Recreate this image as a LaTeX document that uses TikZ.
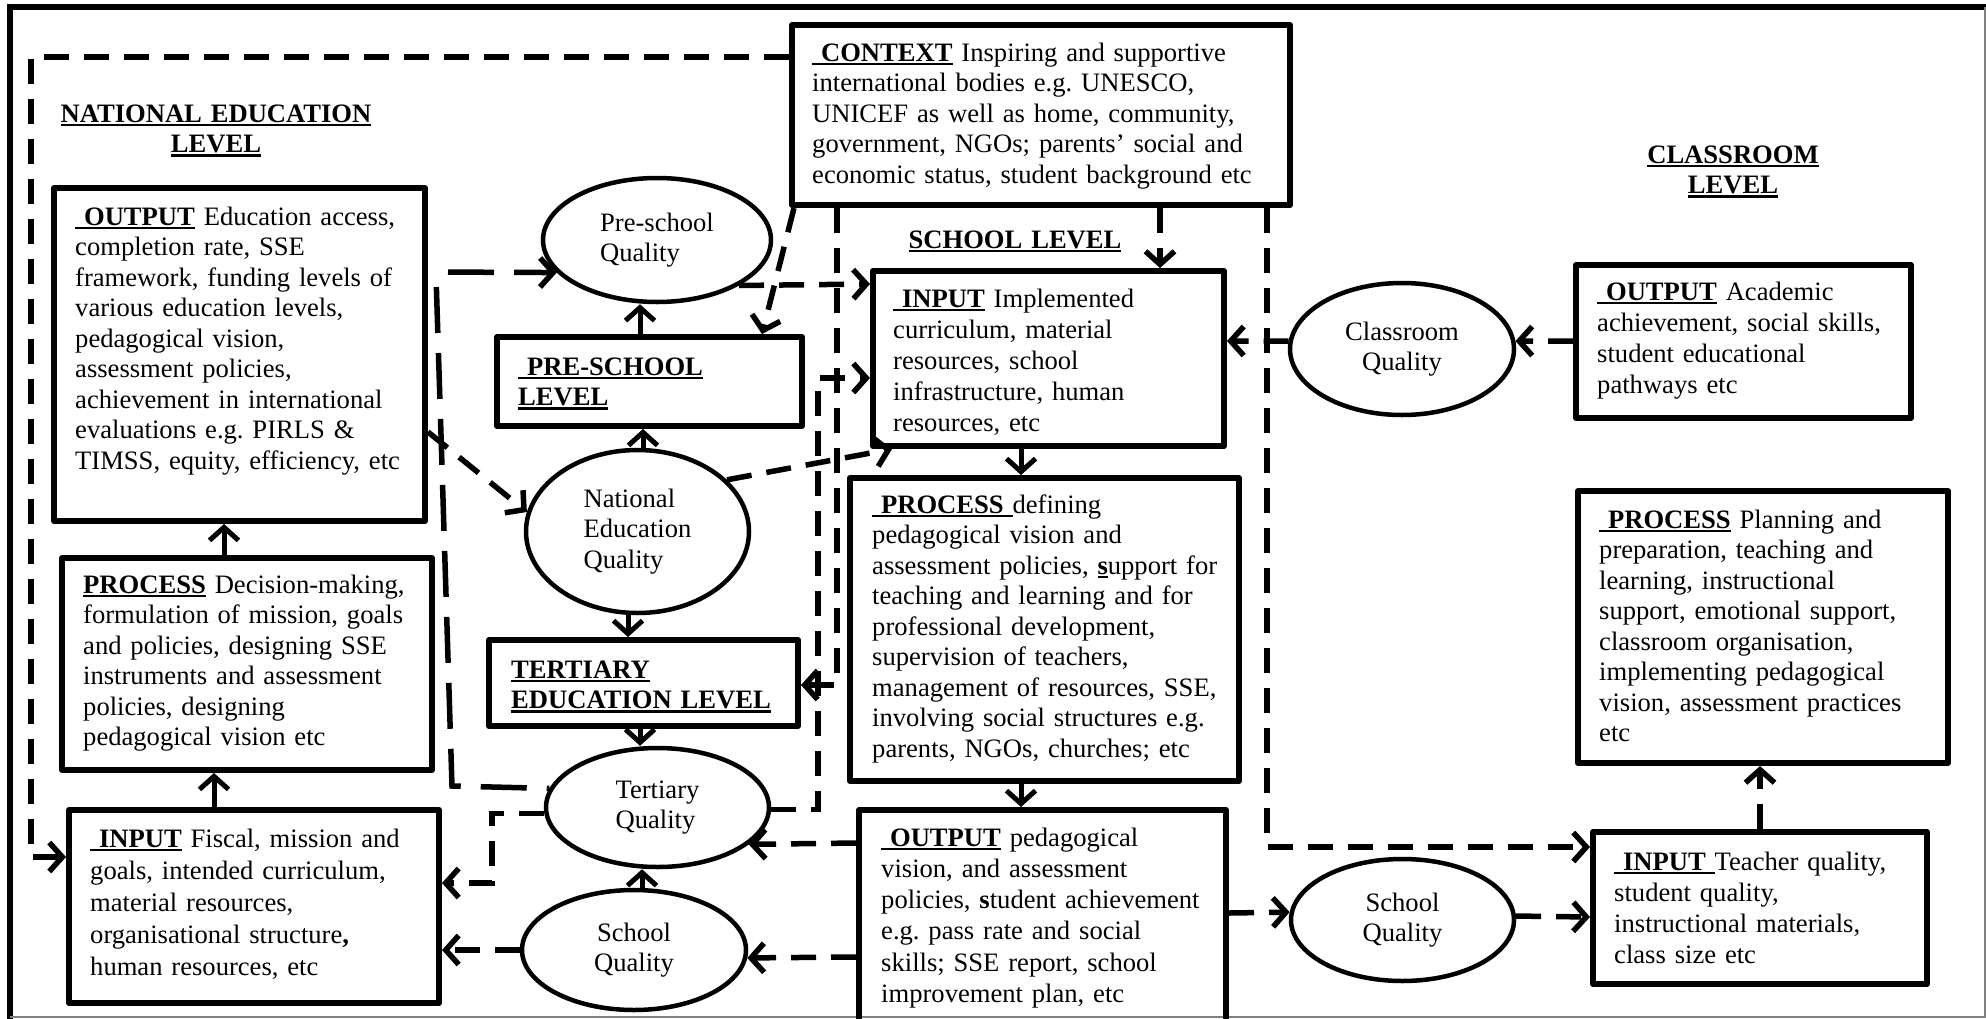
\documentclass[tikz,border=0pt]{standalone}
\usepackage{fontspec}
\setmainfont{Liberation Serif}
\usetikzlibrary{arrows.meta,shapes.geometric}
\newsavebox{\hdbx}
\newcommand{\hd}[1]{\leavevmode\sbox{\hdbx}{\textbf{#1}}\rlap{\rule[-4pt]{\wd\hdbx}{2.4pt}}\usebox{\hdbx}}
\newcommand{\fnt}{\fontsize{26.6}{30.5}\selectfont\frenchspacing}
\begin{document}
\begin{tikzpicture}[x=1pt,y=-1pt,
  bx/.style={draw, line width=6pt, line join=round, inner sep=0pt, anchor=north west},
  txt/.style={inner sep=0pt, anchor=north west, text width=520pt, align=left, font=\fnt},
  lbl/.style={inner sep=0pt, anchor=north, text width=520pt, align=center, font=\fnt},
  ell/.style={ellipse, draw, line width=4.5pt, inner sep=0pt, font=\fnt},
  tip/.style={-{Straight Barb[length=13pt,width=29pt]}},
  sol/.style={line width=5pt, tip},
  dsh/.style={line width=5.5pt, dash pattern=on 25pt off 15pt},
  ldsh/.style={line width=5.5pt, dash pattern=on 46pt off 20pt}
]
\useasboundingbox (0,0) rectangle (1986,1018);
% frame
\draw[line width=6pt] (10,1030) -- (10,7) -- (1995,7);
\draw[gray, line width=1.5pt] (1985,7) -- (1985,1017) -- (10,1017);

% ---------- texts ----------
\node[txt] (ctxT) at (812,39.65) {\strut\hd{\ CONTEXT} Inspiring and supportive\\ international bodies e.g. UNESCO,\\ UNICEF as well as home, community,\\ government, NGOs; parents’ social and\\ economic status, student background etc};
\node[lbl] (natL) at (216,100.65) {\strut\hd{NATIONAL EDUCATION}\\ \hd{LEVEL}};
\node[lbl] (schL) at (1015,226.65) {\strut\hd{SCHOOL LEVEL}};
\node[lbl] (clL) at (1733,141.65) {\strut\hd{CLASSROOM}\\ \hd{LEVEL}};

\node[txt] (natOutT) at (75,203.65) {\strut\hd{\ OUTPUT} Education access,\\ completion rate, SSE\\ framework, funding levels of\\ various education levels,\\ pedagogical vision,\\ assessment policies,\\ achievement in international\\ evaluations e.g. PIRLS \&\\ TIMSS, equity, efficiency, etc};
\node[txt] (natProcT) at (83,571.65) {\strut\hd{PROCESS} Decision-making,\\ formulation of mission, goals\\ and policies, designing SSE\\ instruments and assessment\\ policies, designing\\ pedagogical vision etc};
\node[txt, font=\fontsize{26.6}{32}\selectfont\frenchspacing] (natInT) at (90,824.6) {\strut\hd{\ INPUT} Fiscal, mission and\\ goals, intended curriculum,\\ material resources,\\ organisational structure\textbf{,}\\ human resources, etc};
\node[txt] (preLvlT) at (518,353.65) {\strut\hd{\ PRE-SCHOOL}\\ \hd{LEVEL}};
\node[txt] (terLvlT) at (511,656.65) {\strut\hd{TERTIARY}\\ \hd{EDUCATION LEVEL}};
\node[txt, font=\fontsize{26.6}{31}\selectfont\frenchspacing] (schInT) at (893,285.3) {\strut\hd{\ INPUT} Implemented\\ curriculum, material\\ resources, school\\ infrastructure, human\\ resources, etc};
\node[txt] (schProcT) at (872,491.65) {\strut\hd{\ PROCESS\ }defining\\ pedagogical vision and\\ assessment policies, \hd{s}upport for\\ teaching and learning and for\\ professional development,\\ supervision of teachers,\\ management of resources, SSE,\\ involving social structures e.g.\\ parents, NGOs, churches; etc};
\node[txt, font=\fontsize{26.6}{31.2}\selectfont\frenchspacing] (schOutT) at (881,824.2) {\strut\hd{\ OUTPUT} pedagogical\\ vision, and assessment\\ policies, \textbf{s}tudent achievement\\ e.g. pass rate and social\\ skills; SSE report, school\\ improvement plan, etc};
\node[txt, font=\fontsize{26.6}{31}\selectfont\frenchspacing] (clOutT) at (1597,278.3) {\strut\hd{\ OUTPUT} Academic\\ achievement, social skills,\\ student educational\\ pathways etc};
\node[txt] (clProcT) at (1599,506.65) {\strut\hd{\ PROCESS} Planning and\\ preparation, teaching and\\ learning, instructional\\ support, emotional support,\\ classroom organisation,\\ implementing pedagogical\\ vision, assessment practices\\ etc};
\node[txt, font=\fontsize{26.6}{31}\selectfont\frenchspacing] (clInT) at (1614,848.3) {\strut\hd{\ INPUT\ }Teacher quality,\\ student quality,\\ instructional materials,\\ class size etc};

% ---------- boxes ----------
\node[bx, minimum width=498pt, minimum height=180pt] (ctx) at (789,22) {};
\node[bx, minimum width=371pt, minimum height=333pt] (natOut) at (51,185) {};
\node[bx, minimum width=370pt, minimum height=212pt] (natProc) at (59,555) {};
\node[bx, minimum width=370pt, minimum height=193pt] (natIn) at (66,807) {};
\node[bx, minimum width=305pt, minimum height=89pt] (preLvl) at (494,334) {};
\node[bx, minimum width=309pt, minimum height=86pt] (terLvl) at (486,637) {};
\node[bx, minimum width=351pt, minimum height=175pt] (schIn) at (870,268) {};
\node[bx, minimum width=389pt, minimum height=303pt] (schProc) at (847,475) {};
\node[bx, minimum width=367pt, minimum height=253pt] (schOut) at (856,807) {};
\node[bx, minimum width=335pt, minimum height=153pt] (clOut) at (1573,262) {};
\node[bx, minimum width=370pt, minimum height=272pt] (clProc) at (1575,488) {};
\node[bx, minimum width=334pt, minimum height=152pt] (clIn) at (1590,829) {};

% ---------- ellipses ----------
\node[ell, align=left, minimum width=228pt, minimum height=124pt] (preQ) at (657,240) {Pre-school\\ Quality};
\node[ell, align=left, minimum width=223pt, minimum height=163pt] (neq) at (637.5,531.5) {National\\ Education\\ Quality};
\node[ell, align=left, minimum width=223pt, minimum height=119pt] (terQ) at (657.5,807.5) {Tertiary\\ Quality};
\node[ell, align=center, minimum width=224pt, minimum height=120pt] (schQL) at (634,950) {School\\ Quality};
\node[ell, align=center, minimum width=223pt, minimum height=122pt] (schQR) at (1402.5,920) {School\\ Quality};
\node[ell, align=center, minimum width=224pt, minimum height=132pt] (clQ) at (1402,349) {Classroom\\ Quality};

% ---------- solid arrows ----------
\draw[sol] (natIn.north -| 214,0) -- (natProc.south -| 214,0);
\draw[sol] (natProc.north -| 224,0) -- (natOut.south -| 224,0);
\draw[sol] (neq.north -| 643,0) -- (preLvl.south -| 643,0);
\draw[sol] (preLvl.north -| 640,0) -- (preQ.south -| 640,0);
\draw[sol] (neq.south -| 628,0) -- (terLvl.north -| 628,0);
\draw[sol] (terLvl.south -| 640,0) -- (terQ.north -| 640,0);
\draw[sol] (schQL.north -| 642,0) -- (terQ.south -| 642,0);
\draw[sol] (schIn.south -| 1021,0) -- (schProc.north -| 1021,0);
\draw[sol] (schProc.south -| 1021,0) -- (schOut.north -| 1021,0);

% ---------- dashed connectors ----------
\draw[dsh, tip] (ctx.west |- 0,57) -| (31,857) -- (natIn.west |- 0,857);
\draw[ldsh, tip, dash phase=46pt] (natOut.east |- 0,272) -- (preQ.198);
\coordinate (lnA) at (436,275);
\draw[ldsh, dash phase=54pt] (lnA) -- (452,786) -- (terQ.170);
\draw[dsh, tip] (natOut.east |- 0,432) -- (neq.170);
\draw[dsh, tip] (preQ.-29) -- (schIn.west |- 0,284);
\draw[dsh, tip] (neq.30) -- (schIn.south -| 892,0);
\draw[dsh, tip] (ctx.south -| 794,0) -- (preLvl.north -| 762,0);
\draw[dsh, tip] (ctx.south -| 837,0) |- (terLvl.east |- 0,685);
\draw[dsh, tip] (terQ.-1) -| (818,378) -- (schIn.west |- 0,378);
\draw[dsh, tip] (ctx.south -| 1160,0) -- (schIn.north -| 1160,0);
\draw[dsh, tip] (ctx.south -| 1267,0) |- (clIn.west |- 0,847);
\draw[dsh, tip] (terQ.183) -| (492,883) -- (natIn.east |- 0,883);
\draw[dsh, tip] (schQL.west) -- (natIn.east |- schQL.west);
\draw[dsh, tip] (schOut.west |- 0,843) -- (terQ.-22);
\draw[dsh, tip] (schOut.west |- 0,957) -- (schQL.-4);
\draw[dsh, tip] (schOut.east |- 0,913) -- (schQR.176);
\draw[dsh, tip] (schQR.2) -- (clIn.west |- 0,917);
\draw[dsh, tip] (clIn.north -| 1760,0) -- (clProc.south -| 1760,0);
\draw[dsh, tip] (clOut.west |- 0,341) -- (clQ.4);
\draw[dsh, tip] (clQ.176) -- (schIn.east |- 0,341);
\end{tikzpicture}
\end{document}
